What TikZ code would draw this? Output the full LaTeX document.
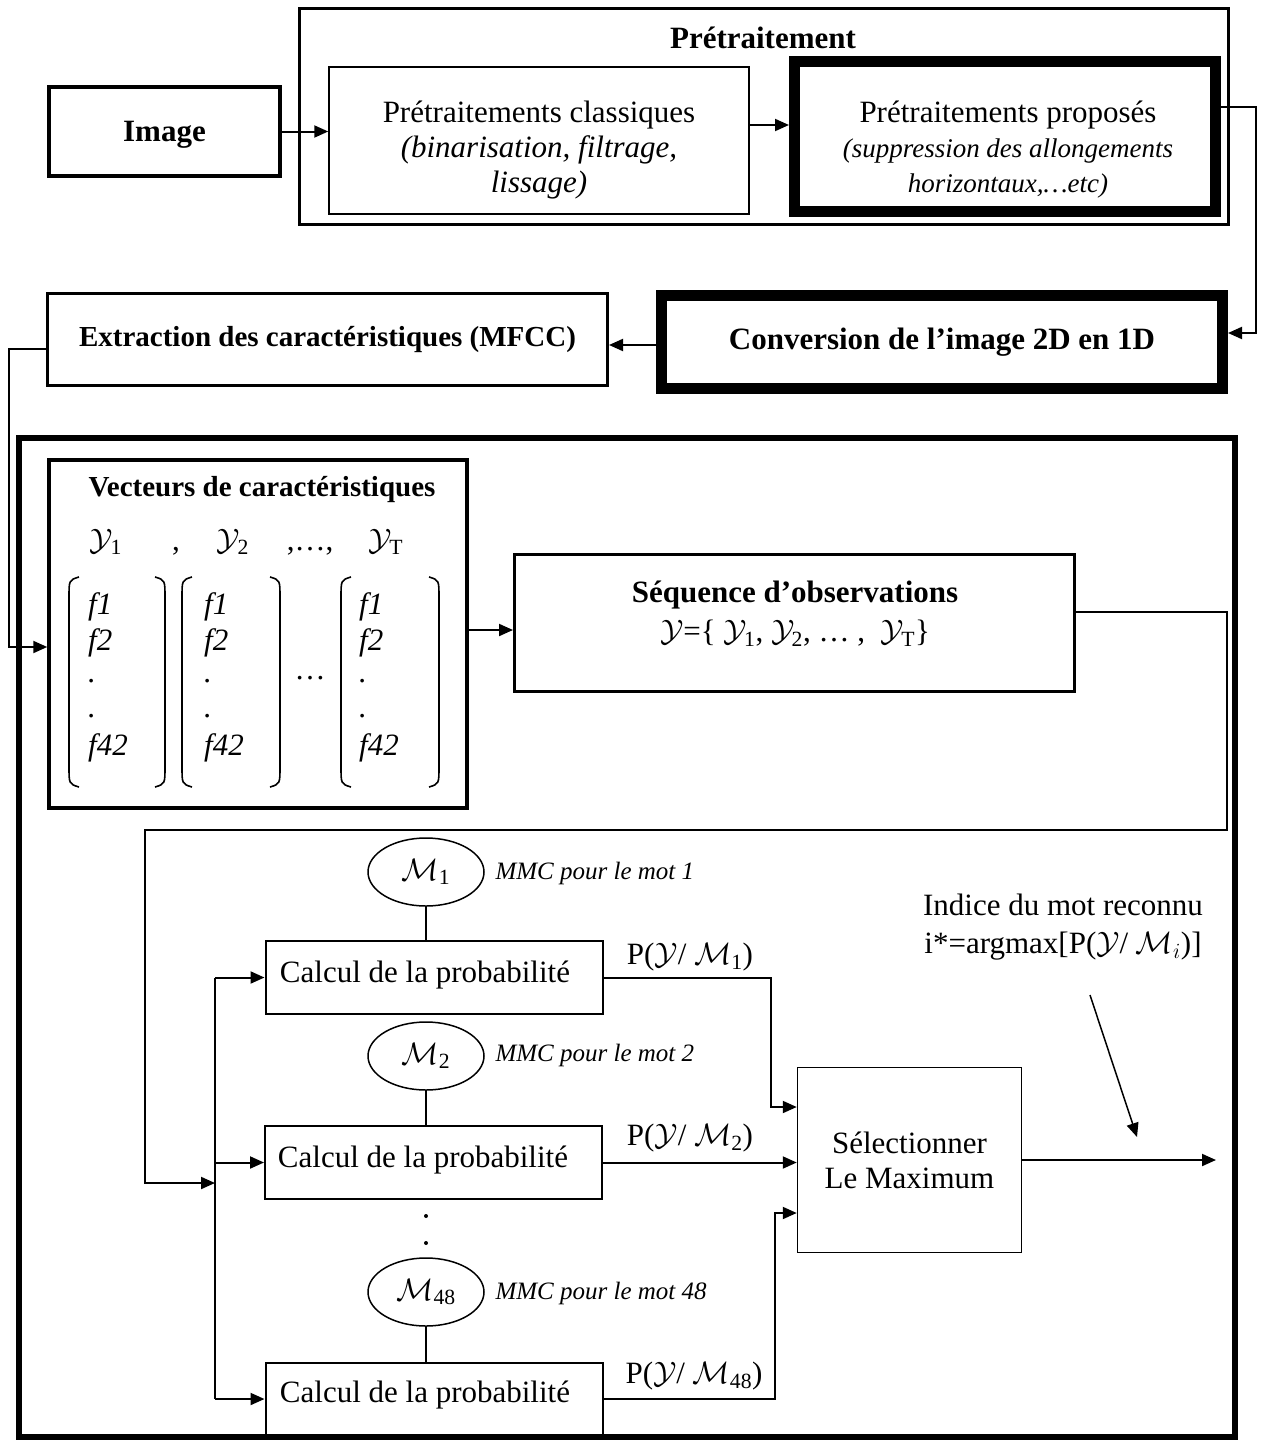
\documentclass[tikz,border=0pt]{standalone}
\usepackage{fix-cm}
\usepackage{amsmath}
\usepackage{fontspec}
\setmainfont{Liberation Serif}
\usetikzlibrary{arrows.meta,shapes.geometric}

\newcommand{\fsA}{\fontsize{31}{35}\selectfont}
\newcommand{\fsB}{\fontsize{29}{34}\selectfont}
\newcommand{\fsC}{\fontsize{25}{30}\selectfont}
\newcommand{\fsI}{\fontsize{27}{35}\selectfont}
\newcommand{\Yc}{\mathcal{Y}}
\newcommand{\Mc}{\mathcal{M}}

\tikzset{
  box/.style={draw, rectangle, inner sep=0pt, align=center},
  conn/.style={line width=2pt},
  arr/.style={conn, -{Triangle[length=14pt,width=12pt]}},
  paren/.style={line width=1.6pt},
  model/.style={draw, ellipse, line width=1.5pt, minimum width=116pt, minimum height=68pt, inner sep=0pt, font=\fsA},
  calcbox/.style={box, line width=2pt, minimum width=337pt, minimum height=73pt},
  calctxt/.style={font=\fsA, inner sep=0pt},
  entry/.style={anchor=west, inner sep=0pt, font=\itshape\fsA},
  rowtxt/.style={anchor=base, inner sep=0pt, font=\fsA},
}

\begin{document}
\begin{tikzpicture}[x=1pt,y=-1pt]
\useasboundingbox (0,0) rectangle (1261,1443);

% ---------- preprocessing stage ----------
\node[box, line width=4pt, minimum width=231pt, minimum height=89pt, text depth=0pt, font=\bfseries\fsA]
  (image) at (164.5,131.5) {Image};
\node[box, line width=3pt, minimum width=929pt, minimum height=216pt] (pre) at (764,116.5) {};
\node[font=\bfseries\fsA] (pretitle) at (763,38) {Prétraitement};
\node[box, line width=1.5pt, minimum width=420pt, minimum height=147pt] (classic) at (539,140.5) {};
\node[align=center, font=\fsA] (classictxt) at (539,150)
  {Prétraitements classiques\\ \textit{(binarisation, filtrage,}\\ \textit{lissage)}};
\node[box, line width=11pt, minimum width=421pt, minimum height=150pt] (proposed) at (1005,136.5) {};
\node[align=center, font=\fsA] (proposedtxt) at (1008,150)
  {Prétraitements proposés\\ {\fsI\itshape (suppression des allongements}\\ {\fsI\itshape horizontaux,…etc)}};

% ---------- conversion and feature extraction ----------
\node[box, line width=11pt, minimum width=561pt, minimum height=93pt, font=\bfseries\fsA]
  (conversion) at (942,342) {Conversion de l’image 2D en 1D};
\node[box, line width=3pt, minimum width=560pt, minimum height=92pt, font=\bfseries\fsB]
  (extraction) at (327.5,339.5) {Extraction des caractéristiques (MFCC)};

% ---------- recognition stage ----------
\node[box, line width=6pt, minimum width=1216pt, minimum height=999pt] (recog) at (627,937.5) {};

% feature vectors
\node[box, line width=3.5pt, minimum width=418pt, minimum height=348pt] (vect) at (258,634) {};
\node[font=\bfseries\fsB] (vtitle) at (262,490) {Vecteurs de caractéristiques};
\node[rowtxt] (ya) at (106,550) {$\Yc_{\text{1}}$};
\node[rowtxt] (cma) at (176,550) {,};
\node[rowtxt] (yb) at (233,550) {$\Yc_{\text{2}}$};
\node[rowtxt] (cmb) at (310,550) {,…,};
\node[rowtxt] (yc) at (386,550) {$\Yc_{\text{T}}$};

\foreach \l/\r/\e in {69/165/88, 182/280/204, 341/439/359}{
  \draw[paren] (\l+10,577) .. controls (\l,580) .. (\l,598) -- (\l,766) .. controls (\l,784) .. (\l+10,787);
  \draw[paren] (\r-10,577) .. controls (\r,580) .. (\r,598) -- (\r,766) .. controls (\r,784) .. (\r-10,787);
  \node[entry] at (\e,607) {f1};
  \node[entry] at (\e,643) {f2};
  \node[entry] at (\e,681) {.};
  \node[entry] at (\e,716) {.};
  \node[entry] at (\e,748) {f42};
}
\node[font=\fsA] (vdots) at (310,678) {…};

% observation sequence
\node[box, line width=3pt, minimum width=560pt, minimum height=137pt] (seq) at (794.5,623) {};
\node[font=\bfseries\fsA] (seqtitle) at (795,595) {Séquence d’observations};
\node[font=\fsA] (seqset) at (795,633)
  {$\Yc$=\{ $\Yc_{\text{1}}$,\ $\Yc_{\text{2}}$, … ,\ \ $\Yc_{\text{T}}$\}};

% word models and likelihood computation
\node[model] (m1) at (426,872) {$\Mc_{\text{1}}$};
\node[model] (m2) at (426,1056) {$\Mc_{\text{2}}$};
\node[model] (m48) at (426,1292) {$\Mc_{\text{48}}$};
\node[anchor=west, font=\itshape\fsC] (l1) at (492,873) {MMC pour le mot 1};
\node[anchor=west, font=\itshape\fsC] (l2) at (492,1055) {MMC pour le mot 2};
\node[anchor=west, font=\itshape\fsC] (l48) at (492,1293) {MMC pour le mot 48};

\node[calcbox] (calc1) at (434,977.5) {};
\node[calcbox] (calc2) at (433.5,1162.5) {};
\node[calcbox] (calc48) at (434,1399) {};
\node[calctxt] (c1txt) at (425,975) {Calcul de la probabilité};
\node[calctxt] (c2txt) at (423,1160) {Calcul de la probabilité};
\node[calctxt] (c48txt) at (425,1395) {Calcul de la probabilité};

\node[font=\fsA] (p1) at (690,957) {P($\Yc$/ $\Mc_{\text{1}}$)};
\node[font=\fsA] (p2) at (690,1138) {P($\Yc$/ $\Mc_{\text{2}}$)};
\node[font=\fsA] (p48) at (694,1376) {P($\Yc$/ $\Mc_{\text{48}}$)};

\fill (426,1216) circle (2pt);
\fill (426,1243) circle (2pt);

\node[box, line width=1.5pt, minimum width=224pt, minimum height=185pt, font=\fsA]
  (select) at (909.5,1160) {Sélectionner\\Le Maximum};
\node[align=center, font=\fontsize{31}{38}\selectfont] (indice) at (1063,927)
  {Indice du mot reconnu\\ i*=argmax[P($\Yc$/ $\Mc_{i}$)]};

\coordinate (busin) at (215,1183);
\coordinate (result) at (1216,1160);
\coordinate (ptrfrom) at (1090,995);
\coordinate (ptrto) at (1137,1137);

% ---------- connectors ----------
\draw[arr] (image.east) -- (image.east -| classic.west);
\draw[arr] (classic.east |- 0,125) -- (proposed.west |- 0,125);
\draw[arr] (proposed.east |- 0,107) -- (1256,107) -- (1256,333) -- (conversion.east |- 0,333);
\draw[arr] (conversion.west |- 0,345) -- (extraction.east |- 0,345);
\draw[arr] (extraction.west |- 0,349) -- (9,349) -- (9,647) -- (vect.west |- 0,647);
\draw[arr] (vect.east |- 0,630) -- (seq.west |- 0,630);
\draw[arr] (seq.east |- 0,612) -- (1227,612) -- (1227,830) -- (145,830) -- (145,1183) -- (busin);

\draw[conn] (calc1.west -| busin) -- (calc48.west -| busin);
\draw[arr] (calc1.west -| busin) -- (calc1.west);
\draw[arr] (calc2.west -| busin) -- (calc2.west);
\draw[arr] (calc48.west -| busin) -- (calc48.west);

\draw[line width=1.5pt] (m1.south) -- (m1.south |- calc1.north);
\draw[line width=1.5pt] (m2.south) -- (m2.south |- calc2.north);
\draw[line width=1.5pt] (m48.south) -- (m48.south |- calc48.north);

\draw[arr] (calc1.east) -| (771,1107) -- (select.west |- 0,1107);
\draw[arr] (calc2.east) -- (calc2.east -| select.west);
\draw[arr] (calc48.east) -| (775,1213) -- (select.west |- 0,1213);
\draw[arr] (select.east) -- (result);
\draw[arr, line width=1.5pt] (ptrfrom) -- (ptrto);
\end{tikzpicture}
\end{document}
